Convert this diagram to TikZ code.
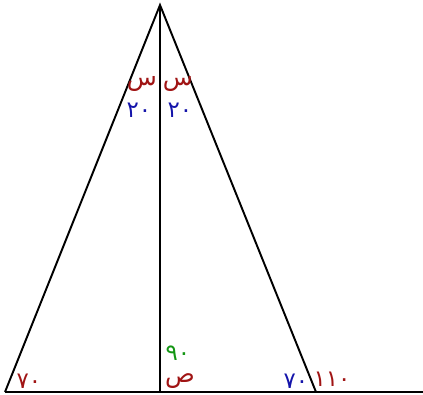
\documentclass[tikz,border=0pt]{standalone}
\usepackage{fontspec}
\newfontfamily\arabicfont[Script=Arabic]{DejaVu Sans}
\TeXXeTstate=1
\usepackage{tikz}
\usetikzlibrary{positioning}
\definecolor{angred}{RGB}{160,20,20}
\definecolor{angblue}{RGB}{20,20,170}
\definecolor{anggreen}{RGB}{20,150,20}
\tikzstyle{every node}=[font=\arabicfont\fontsize{14}{16}\selectfont, inner sep=0pt]
\tikzstyle{side}=[draw=black, line width=1.1pt]
\tikzstyle{red}=[text=angred]
\tikzstyle{blue}=[text=angblue]
\tikzstyle{green}=[text=anggreen]
\tikzstyle{num}=[font=\arabicfont\fontsize{13}{15}\selectfont]
\newcommand{\rtl}[1]{\beginR #1\endR}

\begin{document}
\begin{tikzpicture}[x=0.02cm,y=-0.02cm]
    \useasboundingbox (0,0) rectangle (423,395);
    \coordinate (A) at (160,5);
    \coordinate (B) at (5,392);
    \coordinate (H) at (160,392);
    \coordinate (C) at (316,392);
    \coordinate (E) at (423,392);
    \draw[side] (B) -- (A) -- (C);
    \draw[side] (A) -- (H);
    \draw[side] (B) -- (E);
    % angle labels at the apex
    \node[red] (sl) at (142,84) {\rtl{س}};
    \node[red] (sr) at (178,84) {\rtl{س}};
    \node[num, blue] (al) at (139,110) {٢٠};
    \node[num, blue] (ar) at (180,110) {٢٠};
    % labels on the base
    \node[num, red] (bl) at (29,381) {٧٠};
    \node[num, green] (hr) at (178,353) {٩٠};
    \node[red] (y) at (180,381) {\rtl{ص}};
    \node[num, blue] (ci) at (296,381) {٧٠};
    \node[num, red] (co) at (332,379) {١١٠};
\end{tikzpicture}
\end{document}
